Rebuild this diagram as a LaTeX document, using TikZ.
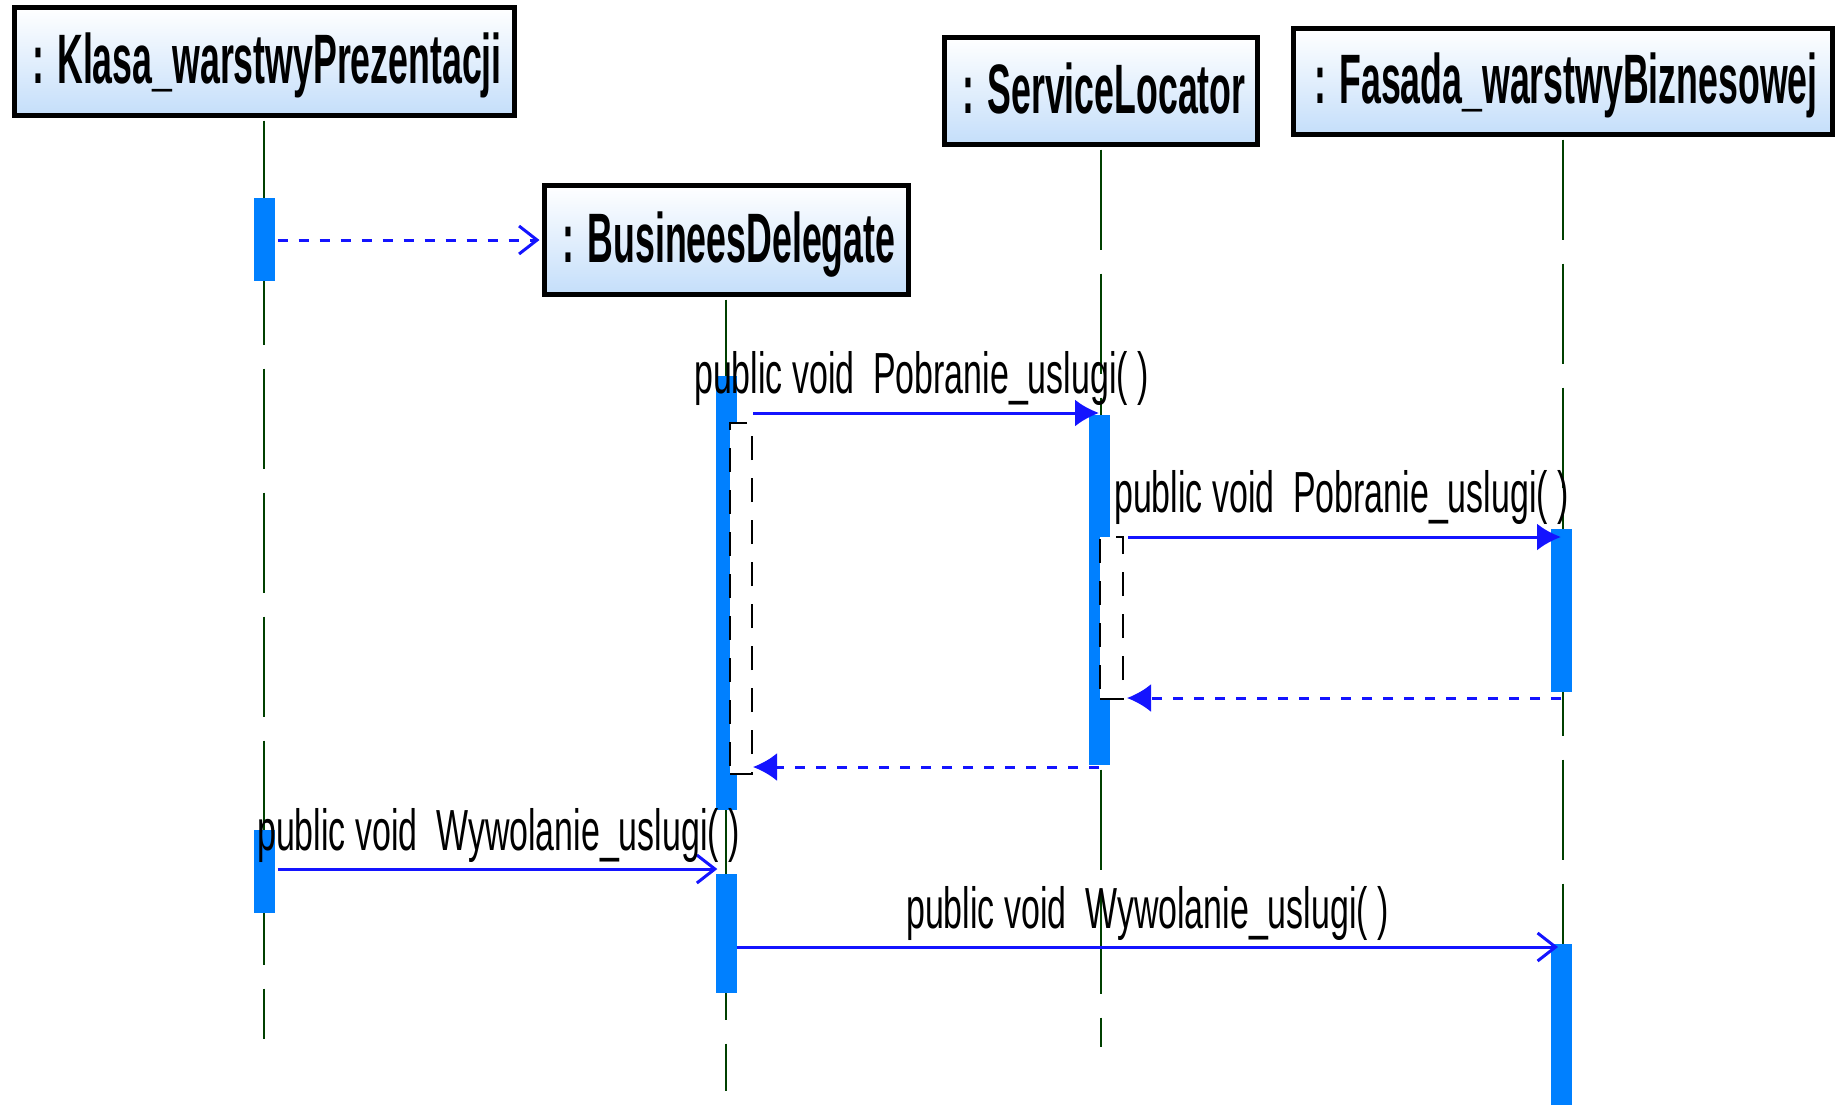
\documentclass[tikz,border=0pt]{standalone}
\usepackage{fontspec}
\usetikzlibrary{arrows.meta}
\newfontfamily\headfont[FakeStretch=0.51]{Liberation Sans}
\newfontfamily\msgfont[FakeStretch=0.585]{Liberation Sans}
\definecolor{barblue}{RGB}{0,128,255}
\definecolor{msgblue}{RGB}{20,20,255}
\definecolor{lifegreen}{RGB}{0,64,0}
\definecolor{boxbottom}{RGB}{196,222,250}
\begin{document}
\begin{tikzpicture}[x=1pt,y=-1pt,
  objbox/.style={draw=black, line width=5pt, top color=white, bottom color=boxbottom,
    inner sep=0pt, text height=55pt, text depth=11pt,
    font=\headfont\bfseries\fontsize{70}{72}\selectfont},
  lifeline/.style={lifegreen, line width=2.2pt, dash pattern=on 100pt off 24pt},
  actbar/.style={fill=barblue, draw=none, minimum width=21pt, inner sep=0pt, anchor=north},
  nested/.style={fill=white, draw=black, line width=2pt, dash pattern=on 24pt off 18pt,
    inner sep=0pt, anchor=north west},
  call/.style={msgblue, line width=3pt, -{Latex[length=24pt,width=27pt]}},
  reply/.style={msgblue, line width=3pt, dash pattern=on 10pt off 11pt, -{Latex[length=24pt,width=28pt]}},
  signal/.style={msgblue, line width=3pt, -{Straight Barb[length=18pt,width=28pt,line width=3pt]}},
  create/.style={signal, dash pattern=on 10pt off 11pt},
  msglabel/.style={anchor=base west, inner sep=0pt, font=\msgfont\fontsize{58}{60}\selectfont}]
\useasboundingbox (0,0) rectangle (1839,1104);

% object headers
\node[objbox, minimum width=500pt, minimum height=108pt] (kl) at (264,61.5) {\hspace*{6pt}: Klasa\_warstwyPrezentacji};
\node[objbox, minimum width=364pt, minimum height=109pt] (bd) at (726,240) {\hspace*{6pt}: BusineesDelegate};
\node[objbox, minimum width=313pt, minimum height=107pt] (sl) at (1101,91) {\hspace*{6pt}: ServiceLocator};
\node[objbox, minimum width=539pt, minimum height=106pt] (fa) at (1563,81.5) {\hspace*{6pt}: Fasada\_warstwyBiznesowej};

% lifelines
\draw[lifeline] (kl.south) ++(0,2.5) -- (264,1039);
\draw[lifeline] (bd.south) ++(0,2.5) -- (726,1091);
\draw[lifeline] (sl.south) ++(0,2.5) -- (1101,1047);
\draw[lifeline] (fa.south) ++(0,2.5) -- (1563,1110);

% activation bars
\node[actbar, minimum height=83pt]  (kl1) at (264,198) {};
\node[actbar, minimum height=83pt]  (kl2) at (264,830) {};
\node[actbar, minimum height=434pt] (bd1) at (726,376) {};
\node[actbar, minimum height=119pt] (bd2) at (726,874) {};
\node[actbar, minimum height=350pt] (sl1) at (1099,415) {};
\node[actbar, minimum height=163pt] (fa1) at (1561,529) {};
\node[actbar, minimum height=170pt] (fa2) at (1561,944) {};

% nested executions
\node[nested, minimum width=22pt, minimum height=351pt] (n1) at (729,422) {};
\node[nested, minimum width=23pt, minimum height=162pt] (n2) at (1099,536) {};

% message heights
\coordinate (m0) at (0,240);
\coordinate (m1) at (0,413);
\coordinate (m2) at (0,537);
\coordinate (m3) at (0,698);
\coordinate (m4) at (0,767);
\coordinate (m5) at (0,869);
\coordinate (m6) at (0,947);

% messages
\draw[create] ([xshift=3pt]kl1.east |- m0) -- ([xshift=-2pt]bd.west);
\draw[call]   (n1.east |- m1) -- (sl1.center |- m1);
\draw[call]   ([xshift=4pt]n2.east |- m2) -- (fa1.center |- m2);
\draw[reply]  (fa1.center |- m3) -- ([xshift=3pt]n2.east |- m3);
\draw[reply]  (sl1.center |- m4) -- (n1.east |- m4);
\draw[signal] ([xshift=3pt]kl2.east |- m5) -- ([xshift=2pt]bd2.west |- m5);
\draw[signal] (bd2.east |- m6) -- ([xshift=-3pt]fa2.center |- m6);

% message labels
\node[msglabel] (t1) at (694,393) {public void\ \ Pobranie\_uslugi(\ )};
\node[msglabel] (t2) at (1114,512) {public void\ \ Pobranie\_uslugi(\ )};
\node[msglabel] (t3) at (257,850) {public void\ \ Wywolanie\_uslugi(\ )};
\node[msglabel] (t4) at (906,928) {public void\ \ Wywolanie\_uslugi(\ )};
\end{tikzpicture}
\end{document}
